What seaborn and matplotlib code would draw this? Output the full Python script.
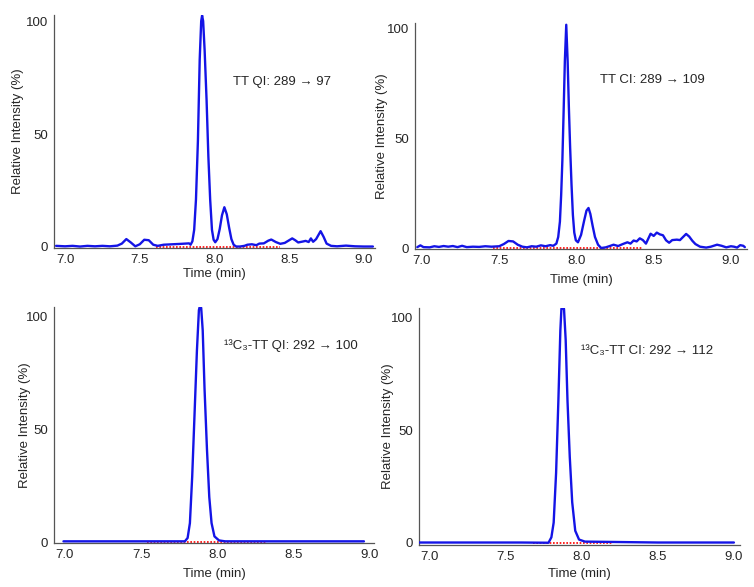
import matplotlib
matplotlib.use('Agg')
import matplotlib.pyplot as plt
import seaborn as sns
import pandas as pd
from matplotlib.ticker import MultipleLocator

# TT QI: 289 -> 97  (time in min, relative intensity in %)
qi_time = [6.94, 7.00, 7.05, 7.10, 7.15, 7.20, 7.25, 7.30, 7.35, 7.38, 7.41, 7.44, 7.47,
           7.50, 7.53, 7.56, 7.59, 7.62, 7.66, 7.72, 7.78, 7.83, 7.840, 7.852, 7.864,
           7.876, 7.889, 7.901, 7.911, 7.917, 7.924, 7.934, 7.947, 7.959, 7.971, 7.983,
           7.994, 8.005, 8.02, 8.035, 8.05, 8.066, 8.082, 8.098, 8.113, 8.128, 8.145,
           8.17, 8.20, 8.22, 8.25, 8.28, 8.30, 8.33, 8.36, 8.38, 8.41, 8.44, 8.47, 8.50,
           8.52, 8.54, 8.56, 8.59, 8.61, 8.63, 8.645, 8.66, 8.68, 8.71, 8.73, 8.75,
           8.78, 8.82, 8.88, 8.94, 9.00, 9.06]
qi_int = [0.5, 0.3, 0.5, 0.2, 0.5, 0.3, 0.5, 0.3, 0.6, 1.5, 3.5, 2.0, 0.3,
          1.2, 3.2, 3.0, 1.0, 0.5, 1.0, 1.2, 1.4, 1.6, 1.0, 2.5, 7.6,
          21, 47, 83, 100, 102.5, 100, 87, 65, 40, 21, 7.6,
          3.2, 2.1, 3.5, 8.0, 14.0, 17.6, 14.5, 8.5, 3.5, 1.0, 0.2,
          0.2, 0.5, 1.0, 1.2, 0.8, 1.5, 1.6, 2.8, 3.3, 2.2, 1.4, 1.8, 3.0,
          3.8, 3.0, 2.0, 2.4, 2.7, 2.2, 3.8, 2.3, 3.5, 7.0, 4.5, 1.5,
          0.5, 0.3, 0.6, 0.3, 0.2, 0.2]

# TT CI: 289 -> 109
ci_time = [6.97, 6.99, 7.01, 7.05, 7.08, 7.11, 7.14, 7.17, 7.20, 7.23, 7.26, 7.29, 7.33,
           7.37, 7.41, 7.45, 7.50, 7.53, 7.56, 7.59, 7.62, 7.65, 7.68, 7.71, 7.74, 7.77,
           7.80, 7.83, 7.85, 7.87, 7.882, 7.893, 7.901, 7.909, 7.917, 7.925, 7.934,
           7.943, 7.951, 7.959, 7.968, 7.977, 7.986, 7.996, 8.01, 8.03, 8.05, 8.065,
           8.078, 8.09, 8.105, 8.12, 8.14, 8.16, 8.19, 8.22, 8.24, 8.27, 8.30, 8.33,
           8.35, 8.37, 8.39, 8.41, 8.43, 8.45, 8.48, 8.50, 8.52, 8.54, 8.56, 8.58,
           8.60, 8.62, 8.65, 8.67, 8.69, 8.71, 8.73, 8.75, 8.77, 8.80, 8.84, 8.87,
           8.91, 8.94, 8.97, 9.00, 9.02, 9.04, 9.06, 9.08, 9.09]
ci_int = [0.4, 1.2, 0.4, 0.3, 0.8, 0.5, 0.9, 0.6, 0.9, 0.4, 1.0, 0.4, 0.6,
          0.5, 0.8, 0.6, 0.8, 1.8, 3.2, 3.0, 1.5, 0.6, 0.3, 0.8, 0.6, 1.2,
          0.8, 1.3, 1.0, 2.0, 5.0, 12, 24, 40, 62, 85, 101.5,
          85, 64, 46, 29, 15, 7.0, 3.5, 2.6, 6.0, 12.5, 17.0,
          18.2, 15.5, 10.0, 5.0, 1.5, 0.0, 0.3, 1.0, 1.5, 0.9, 1.8, 2.6,
          2.0, 3.4, 3.0, 4.4, 3.6, 2.0, 6.5, 5.5, 7.0, 6.2, 5.8, 3.5,
          2.4, 3.6, 3.8, 3.6, 5.0, 6.4, 5.2, 3.3, 1.8, 0.6, 0.2, 0.6,
          1.5, 1.0, 0.3, 0.8, 0.6, 0.2, 1.3, 1.0, 0.4]

# 13C3-TT QI: 292 -> 100
lq_time = [6.99, 7.30, 7.60, 7.786, 7.804, 7.819, 7.834, 7.849, 7.865, 7.878, 7.885,
           7.893, 7.903, 7.915, 7.931, 7.946, 7.961, 7.980, 8.01, 8.05, 8.50, 8.96]
lq_int = [0.3, 0.3, 0.3, 0.3, 1.8, 8.4, 29, 56, 85, 103, 105,
          104, 94, 68, 41, 20, 8.4, 2.5, 0.7, 0.3, 0.3, 0.3]

# 13C3-TT CI: 292 -> 112
lc_time = [6.93, 7.30, 7.60, 7.780, 7.799, 7.814, 7.830, 7.845, 7.858, 7.865, 7.882,
           7.893, 7.905, 7.920, 7.936, 7.956, 7.981, 8.02, 8.50, 9.00]
lc_int = [0.2, 0.2, 0.2, 0.1, 2.5, 9.0, 31, 63, 94, 103.7, 103.7,
          90, 63, 38, 18, 5.4, 1.5, 0.6, 0.2, 0.2]

# integration baselines (start, end) in min
base_qi = [7.61, 8.44]
base_ci = [7.46, 8.43]
base_lq = [7.54, 8.32]
base_lc = [7.68, 8.20]

labels = ['TT QI: 289 \u2192 97', 'TT CI: 289 \u2192 109',
          '\u00b9\u00b3C\u2083-TT QI: 292 \u2192 100', '\u00b9\u00b3C\u2083-TT CI: 292 \u2192 112']

sns.set_style('white')
plt.rcParams['font.family'] = ['Liberation Sans', 'DejaVu Sans']

W, H = 754, 587
fig = plt.figure(figsize=(W / 100, H / 100), dpi=100)

# panel layout in pixels: box (x0, x1, y0, y1), xlim, ylim, ylabel x, xlabel y, text pos
panels = [
    dict(t=qi_time, i=qi_int, base=base_qi, box=(54, 375, 15, 248), xlim=(6.926, 9.074),
         ylim=(-0.45, 102.7), ylab=24, xlab=268, txt=(233, 82)),
    dict(t=ci_time, i=ci_int, base=base_ci, box=(415, 747, 23, 249), xlim=(6.955, 9.104),
         ylim=(-0.45, 102.3), ylab=388, xlab=274, txt=(600, 80)),
    dict(t=lq_time, i=lq_int, base=base_lq, box=(54, 374, 307, 543), xlim=(6.928, 9.026),
         ylim=(-0.44, 104.4), ylab=31, xlab=568, txt=(224, 346)),
    dict(t=lc_time, i=lc_int, base=base_lc, box=(419, 740, 308, 545), xlim=(6.928, 9.04),
         ylim=(-0.9, 104), ylab=394, xlab=568, txt=(581, 351)),
]

for p, lab in zip(panels, labels):
    x0, x1, y0, y1 = p['box']
    ax = fig.add_axes([x0 / W, 1 - y1 / H, (x1 - x0) / W, (y1 - y0) / H])
    ax.patch.set_alpha(0)
    df = pd.DataFrame({'time': p['t'], 'intensity': p['i']})
    ax.plot(p['base'], [0, 0], color='red', ls=(0, (1, 1)), lw=1.2, zorder=2)
    sns.lineplot(data=df, x='time', y='intensity', ax=ax, color='#1414e6', lw=1.7,
                 sort=False, estimator=None, zorder=3)
    ax.set_xlim(p['xlim'])
    ax.set_ylim(p['ylim'])
    for s in ['top', 'right']:
        ax.spines[s].set_visible(False)
    for s in ['left', 'bottom']:
        ax.spines[s].set_color('#555555')
        ax.spines[s].set_linewidth(0.9)
    ax.set_yticks([0, 50, 100])
    ax.set_xticks([7.0, 7.5, 8.0, 8.5, 9.0])
    ax.set_xticklabels(['7.0', '7.5', '8.0', '8.5', '9.0'])
    ax.yaxis.set_minor_locator(MultipleLocator(5))
    ax.xaxis.set_minor_locator(MultipleLocator(0.1))
    ax.tick_params(axis='y', which='major', length=2.5, width=1, color='#333333',
                   labelsize=9.5, pad=2, direction='out')
    ax.tick_params(axis='y', which='minor', length=1.5, width=0.6, color='#777777',
                   direction='out')
    ax.tick_params(axis='x', which='major', length=0, labelsize=9.5, pad=4)
    ax.tick_params(axis='x', which='minor', length=2, width=0.6, color='#777777',
                   direction='in')
    ax.set_xlabel('Time (min)', fontsize=9.5)
    ax.set_ylabel('Relative Intensity (%)', fontsize=9.5)
    ax.yaxis.set_label_coords((p['ylab'] - x0) / (x1 - x0), 0.5)
    ax.xaxis.set_label_coords(0.5, -(p['xlab'] - y1) / (y1 - y0))
    ax.xaxis.label.set_va('top')
    ax.yaxis.label.set_va('bottom')
    tx, ty = p['txt']
    fig.text(tx / W, 1 - ty / H, lab, fontsize=9.5, va='center', ha='left')

fig.savefig('out.png', dpi=100)
